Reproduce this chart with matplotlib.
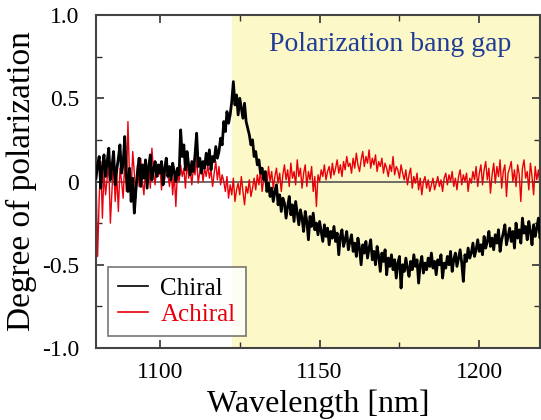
import matplotlib
matplotlib.use("Agg")
import matplotlib.pyplot as plt
from matplotlib.ticker import MultipleLocator, FuncFormatter
import numpy as np

plt.rcParams['font.family'] = ['Liberation Serif', 'DejaVu Serif']
plt.rcParams['axes.unicode_minus'] = False

# wavelength grid, 0.5 nm steps (each row below = 5 nm)
wavelength = np.arange(1080, 1220, 0.5)

chiral = [
    0.02, 0.10, 0.15, -0.04, 0.08, 0.16, 0.03, 0.12, 0.20, 0.01,
    0.09, 0.18, -0.02, 0.07, 0.14, 0.22, 0.05, 0.11, 0.27, 0.04,
    -0.06, 0.08, -0.12, 0.02, -0.19, -0.05, 0.06, 0.14, -0.03, 0.10,
    0.02, 0.13, -0.04, 0.09, 0.16, 0.01, 0.07, 0.12, 0.03, 0.10,
    0.05, 0.12, -0.02, 0.08, 0.14, 0.03, 0.09, 0.01, 0.11, 0.06,
    0.00, 0.08, 0.04, 0.31, 0.15, 0.22, 0.07, 0.18, 0.10, 0.04,
    0.12, 0.06, 0.16, 0.29, 0.09, 0.14, 0.05, 0.12, 0.08, 0.17,
    0.10, 0.19, 0.07, 0.15, 0.12, 0.21, 0.14, 0.18, 0.26, 0.22,
    0.36, 0.30, 0.42, 0.35, 0.40, 0.48, 0.60, 0.46, 0.52, 0.40,
    0.50, 0.44, 0.38, 0.47, 0.36, 0.32, 0.28, 0.22, 0.25, 0.15,
    0.18, 0.10, 0.13, 0.05, 0.08, 0.01, 0.06, -0.06, -0.01, -0.09,
    -0.04, -0.12, -0.06, -0.02, -0.14, -0.08, -0.18, -0.10, -0.13, -0.22,
    -0.15, -0.09, -0.20, -0.14, -0.24, -0.12, -0.19, -0.26, -0.17, -0.22,
    -0.30, -0.18, -0.24, -0.35, -0.21, -0.27, -0.19, -0.29, -0.25, -0.32,
    -0.24, -0.30, -0.36, -0.26, -0.33, -0.28, -0.38, -0.30, -0.34, -0.27,
    -0.36, -0.31, -0.44, -0.33, -0.29, -0.39, -0.35, -0.30, -0.41, -0.36,
    -0.32, -0.42, -0.37, -0.45, -0.34, -0.40, -0.50, -0.38, -0.43, -0.36,
    -0.46, -0.40, -0.35, -0.47, -0.42, -0.50, -0.39, -0.45, -0.54, -0.43,
    -0.48, -0.41, -0.56, -0.46, -0.51, -0.44, -0.53, -0.47, -0.58, -0.49,
    -0.45, -0.64, -0.50, -0.54, -0.46, -0.52, -0.57, -0.48, -0.53, -0.44,
    -0.51, -0.47, -0.61, -0.50, -0.45, -0.55, -0.49, -0.53, -0.46, -0.51,
    -0.43, -0.52, -0.48, -0.56, -0.47, -0.50, -0.44, -0.58, -0.49, -0.52,
    -0.45, -0.50, -0.42, -0.54, -0.47, -0.43, -0.51, -0.46, -0.41, -0.49,
    -0.60, -0.44, -0.48, -0.40, -0.46, -0.43, -0.37, -0.45, -0.41, -0.35,
    -0.42, -0.38, -0.44, -0.33, -0.40, -0.36, -0.30, -0.39, -0.34, -0.41,
    -0.32, -0.37, -0.29, -0.42, -0.35, -0.31, -0.26, -0.38, -0.33, -0.28,
    -0.36, -0.30, -0.40, -0.25, -0.34, -0.29, -0.37, -0.22, -0.31, -0.27,
    -0.35, -0.24, -0.30, -0.38, -0.26, -0.33, -0.28, -0.22, -0.34, -0.29,
]

achiral = [
    0.05, -0.45, -0.10, 0.12, -0.22, 0.06, -0.08, 0.02, 0.10, -0.25,
    -0.05, 0.14, -0.12, 0.04, -0.18, 0.08, 0.00, -0.10, 0.12, -0.06,
    0.36, 0.02, -0.06, 0.18, 0.05, -0.10, 0.10, -0.03, 0.14, 0.00,
    -0.08, 0.08, 0.02, 0.12, -0.04, 0.20, 0.06, -0.02, 0.09, 0.03,
    0.10, -0.05, 0.07, 0.01, 0.13, 0.04, -0.03, 0.09, -0.08, 0.05,
    -0.15, 0.06, 0.00, 0.10, 0.03, 0.08, -0.04, 0.12, 0.02, 0.07,
    -0.02, 0.09, 0.04, 0.14, -0.01, 0.06, 0.11, 0.00, 0.08, 0.03,
    0.10, 0.02, 0.07, -0.03, 0.05, 0.12, 0.01, 0.09, -0.02, 0.04,
    0.00, -0.06, 0.03, -0.10, -0.02, -0.08, 0.02, -0.12, -0.05, -0.01,
    -0.08, 0.03, -0.06, -0.14, -0.03, -0.07, 0.01, -0.09, -0.04, 0.02,
    -0.05, 0.04, -0.02, 0.07, -0.06, 0.01, 0.05, -0.03, 0.09, 0.00,
    0.06, -0.04, 0.03, 0.08, -0.01, 0.05, -0.06, 0.04, 0.10, 0.01,
    0.07, -0.03, 0.11, 0.02, 0.06, -0.02, 0.13, 0.03, 0.08, -0.04,
    0.05, 0.10, -0.03, 0.06, 0.01, 0.09, -0.06, 0.03, -0.15, 0.04,
    0.00, 0.07, 0.03, 0.10, 0.01, 0.06, 0.09, 0.02, 0.11, 0.04,
    0.08, 0.13, 0.05, 0.10, 0.03, 0.12, 0.07, 0.15, 0.09, 0.11,
    0.05, 0.14, 0.08, 0.17, 0.10, 0.06, 0.13, 0.18, 0.09, 0.15,
    0.11, 0.19, 0.08, 0.14, 0.10, 0.16, 0.06, 0.12, 0.09, 0.14,
    0.05, 0.11, 0.08, 0.03, 0.10, 0.06, 0.15, 0.04, 0.09, 0.07,
    0.02, 0.10, 0.05, 0.01, 0.07, -0.02, 0.04, 0.08, -0.04, 0.03,
    -0.01, 0.05, -0.05, 0.02, -0.08, 0.00, 0.03, -0.04, 0.01, -0.06,
    -0.02, 0.02, -0.05, -0.01, 0.03, -0.03, 0.01, -0.06, 0.02, 0.05,
    -0.02, 0.04, 0.00, 0.06, -0.03, 0.02, -0.05, 0.03, 0.07, -0.02,
    0.04, 0.00, 0.05, -0.06, 0.02, -0.01, 0.06, 0.01, 0.09, -0.03,
    0.05, 0.10, -0.02, 0.07, 0.12, 0.01, 0.08, -0.07, 0.04, 0.11,
    -0.01, 0.09, 0.03, 0.13, -0.04, 0.06, 0.10, -0.09, 0.05, 0.08,
    0.12, 0.00, 0.07, -0.03, 0.10, 0.04, -0.12, 0.08, 0.13, 0.02,
    0.06, -0.05, 0.11, 0.03, -0.08, 0.09, 0.01, 0.07, -0.03, 0.05,
]

gap_start = 1122.5
gap_label = "Polarization bang gap"

fig = plt.figure(figsize=(5.41, 4.20), dpi=100)
ax = fig.add_axes([96/541, 1-348/420, 444/541, 333/420])

ax.axvspan(gap_start, 1230, color='#fcf8c8', zorder=0, lw=0)
ax.axhline(0, color='#555555', lw=1.2, zorder=1)

ax.plot(wavelength, achiral, color='#e8000b', lw=1.0, label='Achiral', zorder=2)
ax.plot(wavelength, chiral, color='black', lw=2.0, label='Chiral', zorder=3)

ax.set_xlim(1080, 1219)
ax.set_ylim(-1.0, 1.0)

ax.xaxis.set_major_locator(MultipleLocator(50))
ax.xaxis.set_minor_locator(MultipleLocator(25))
ax.yaxis.set_major_locator(MultipleLocator(0.5))
ax.yaxis.set_minor_locator(MultipleLocator(0.25))

def yfmt(v, pos):
    if abs(v) < 1e-9:
        return "0"
    return "%.1f" % v

ax.yaxis.set_major_formatter(FuncFormatter(yfmt))
ax.tick_params(which='both', direction='in', top=True, right=True,
               color='#333333', labelsize=17)
ax.tick_params(which='major', length=6, width=1.2)
ax.tick_params(which='minor', length=4, width=1.0)
ax.tick_params(axis='x', pad=10)
ax.tick_params(axis='y', pad=12)

for sp in ax.spines.values():
    sp.set_color('#444444')
    sp.set_linewidth(1.5)

ax.set_xlabel("Wavelength [nm]", fontsize=23, labelpad=5)
ax.set_ylabel("Degree of polarization", fontsize=24, labelpad=4)

ax.text(1172, 0.82, gap_label, color='#1f3c96', fontsize=20,
        ha='center', va='center')

handles, labels = ax.get_legend_handles_labels()
leg = ax.legend(handles[::-1], labels[::-1], loc='lower left',
                bbox_to_anchor=(0.027, 0.036), borderaxespad=0, fontsize=18,
                frameon=True, fancybox=False, edgecolor='#555555',
                handlelength=1.2, handletextpad=0.5, borderpad=0.4,
                labelspacing=0.15, labelcolor='linecolor')
leg.get_frame().set_linewidth(1.2)
for h in leg.get_lines():
    h.set_linewidth(1.2)

fig.savefig("out.png", dpi=100)
